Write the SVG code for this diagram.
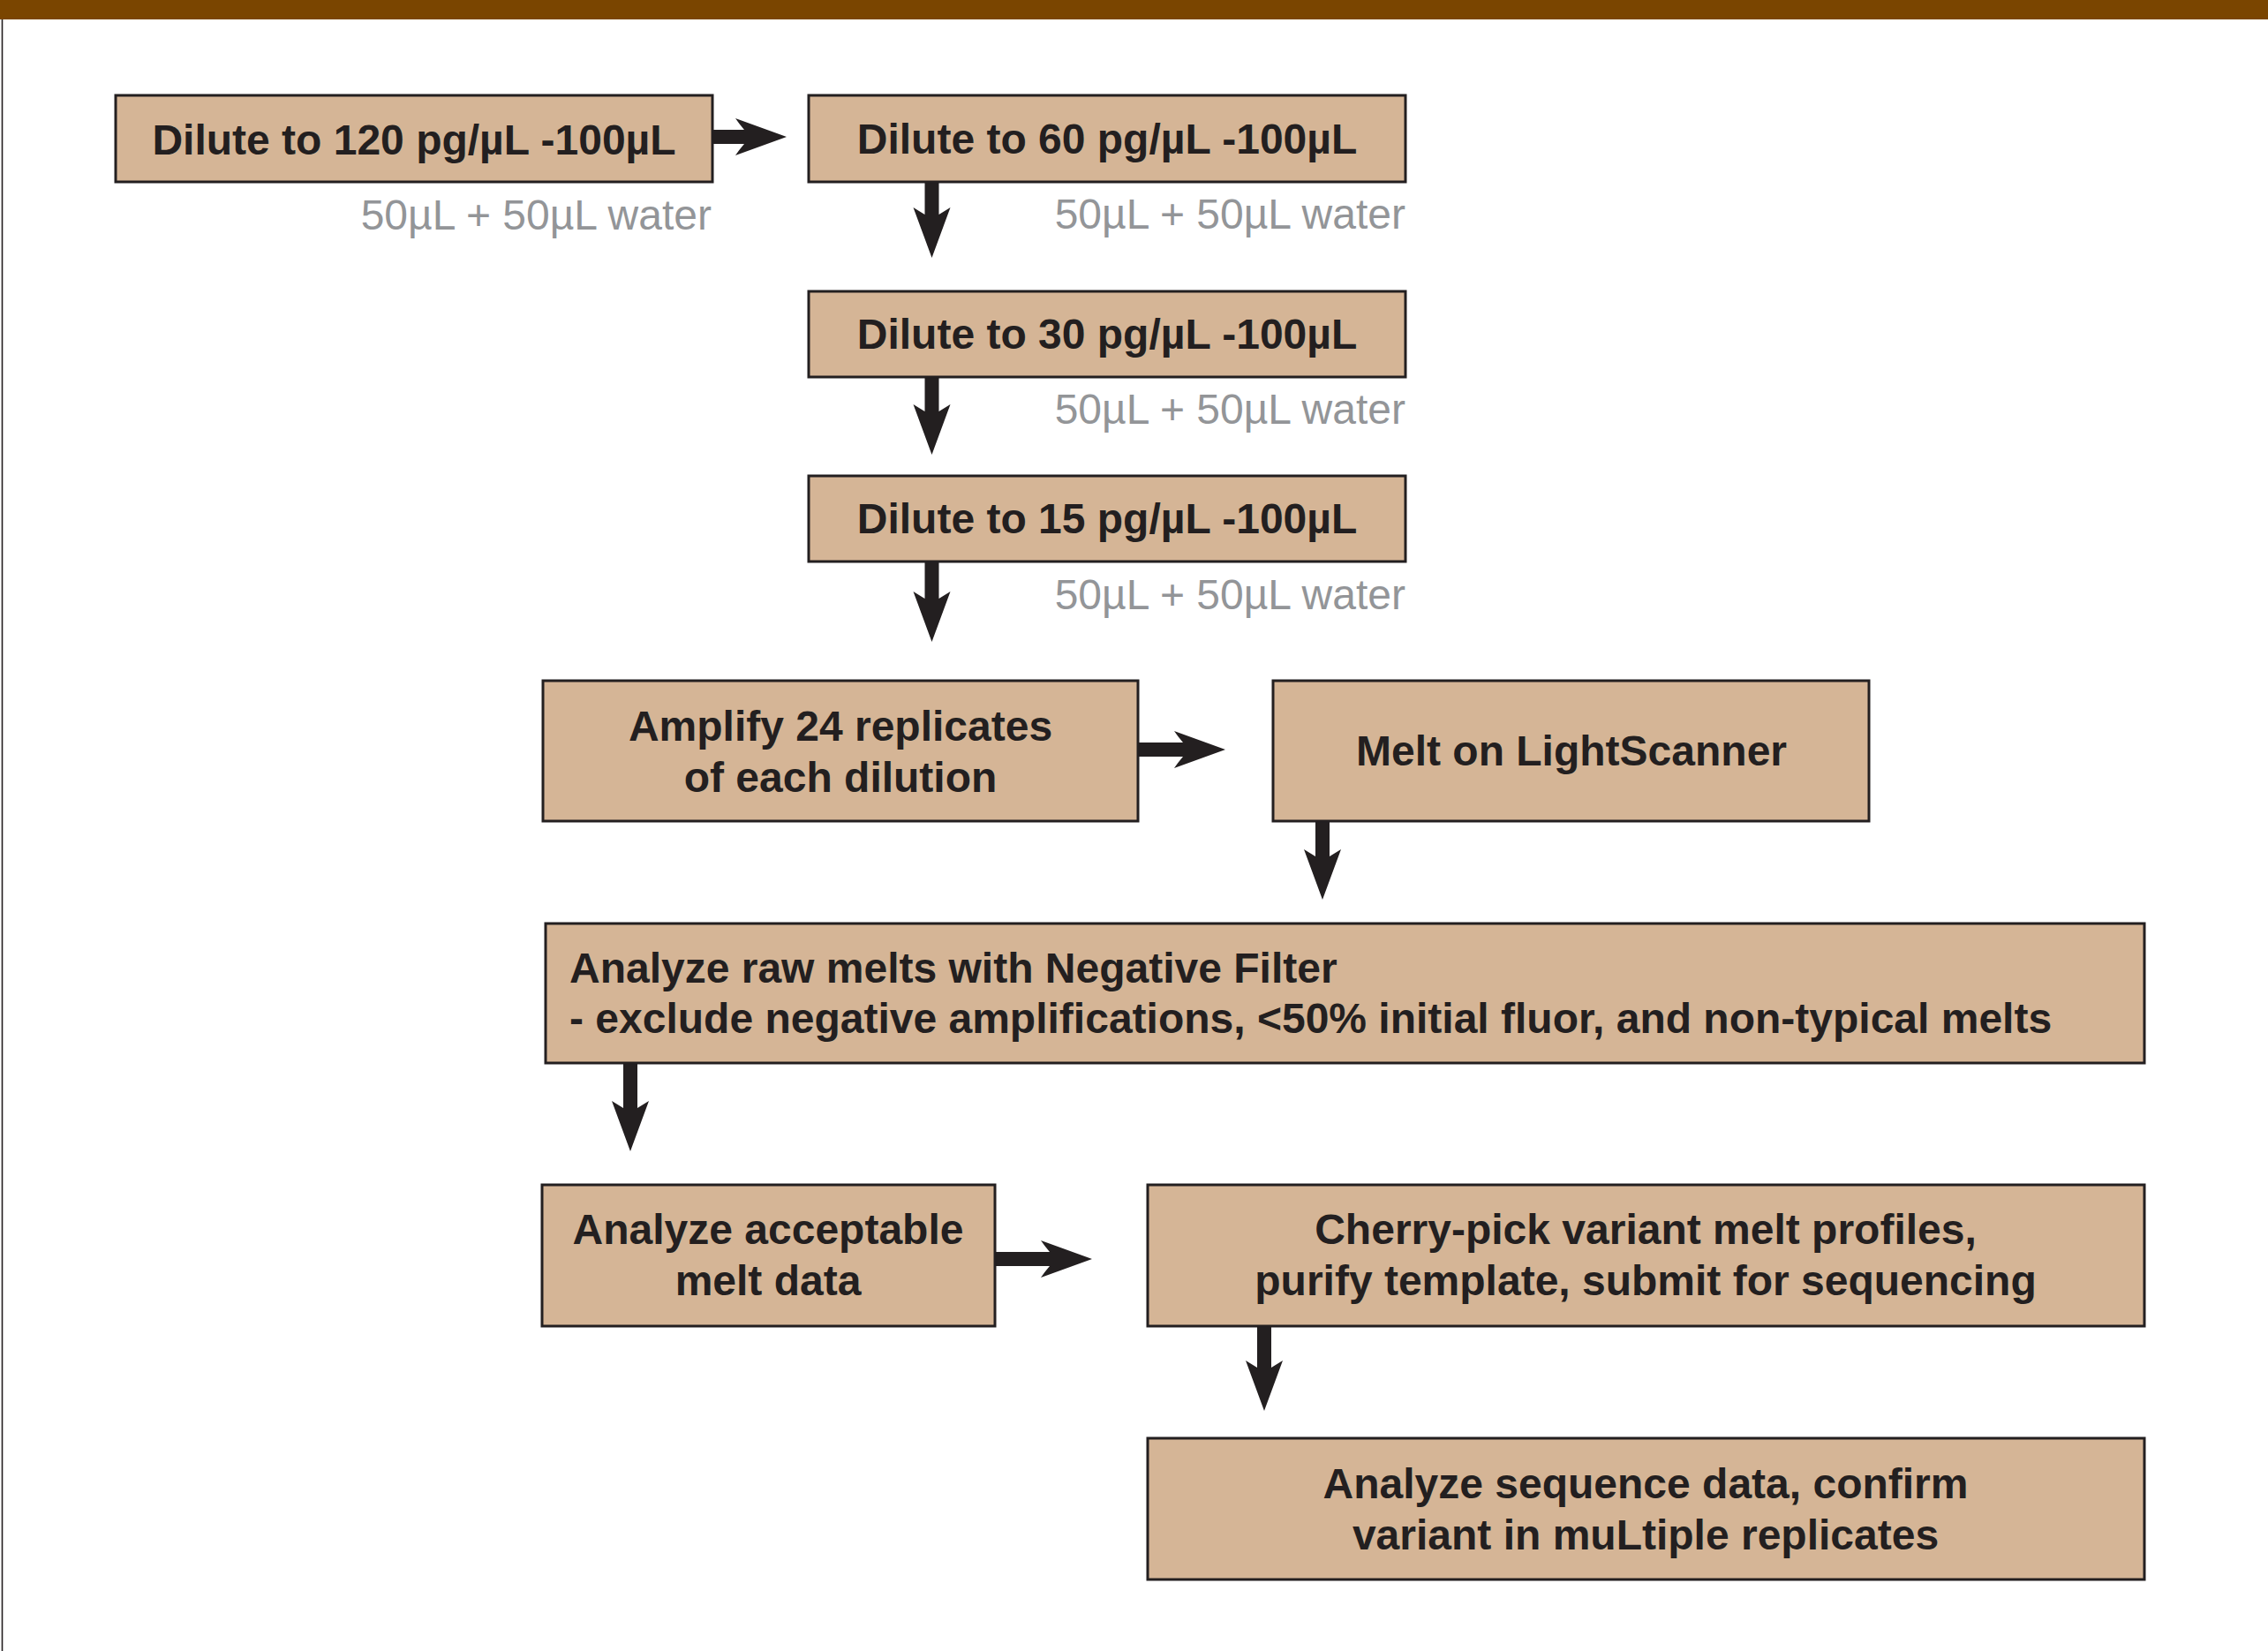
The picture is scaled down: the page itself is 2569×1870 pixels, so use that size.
<svg xmlns="http://www.w3.org/2000/svg" width="2569" height="1870" viewBox="0 0 2569 1870">
<defs>
<style>
.box{fill:#D5B596;stroke:#231F20;stroke-width:3}
.t{font-family:"Liberation Sans",Arial,Helvetica,sans-serif;font-weight:bold;font-size:48px;fill:#231F20}
.c{text-anchor:middle}
.g{font-family:"Liberation Sans",Arial,Helvetica,sans-serif;font-size:48px;fill:#939598;text-anchor:end}
.arr{fill:#231F20;stroke:none}
</style>
</defs>
<rect x="0" y="0" width="2569" height="1870" fill="#ffffff"/>
<rect x="0" y="0" width="2569" height="22" fill="#7A4500"/>
<line x1="2.5" y1="22" x2="2.5" y2="1870" stroke="#231F20" stroke-width="1.6"/>

<g id="connectors">
<path class="arr" d="M807,147 L843,147 Q837,140 833,134 L891,155 L833,176 Q837,170 843,163 L807,163 Z"/>
<path class="arr" d="M1047.5,206 L1047.5,243 Q1041,239 1034.5,235 L1055.5,292 L1076.5,235 Q1070,239 1063.5,243 L1063.5,206 Z"/>
<path class="arr" d="M1047.5,427 L1047.5,466 Q1041,462 1034.5,458 L1055.5,515 L1076.5,458 Q1070,462 1063.5,466 L1063.5,427 Z"/>
<path class="arr" d="M1047.5,636 L1047.5,678 Q1041,674 1034.5,670 L1055.5,727 L1076.5,670 Q1070,674 1063.5,678 L1063.5,636 Z"/>
<path class="arr" d="M1289,841 L1340,841 Q1334,834 1330,828 L1388,849 L1330,870 Q1334,864 1340,857 L1289,857 Z"/>
<path class="arr" d="M1490,930 L1490,970 Q1483.5,966 1477,962 L1498,1019 L1519,962 Q1512.5,966 1506,970 L1506,930 Z"/>
<path class="arr" d="M706,1204 L706,1255 Q699.5,1251 693,1247 L714,1304 L735,1247 Q728.5,1251 722,1255 L722,1204 Z"/>
<path class="arr" d="M1127,1418 L1189,1418 Q1183,1411 1179,1405 L1237,1426 L1179,1447 Q1183,1441 1189,1434 L1127,1434 Z"/>
<path class="arr" d="M1424,1502 L1424,1549 Q1417.5,1545 1411,1541 L1432,1598 L1453,1541 Q1446.5,1545 1440,1549 L1440,1502 Z"/>
</g>

<g id="n1">
<rect class="box" x="131" y="108" width="676" height="98"/>
<text class="t c" x="469" y="175">Dilute to 120 pg/µL -100µL</text>
<text class="g" x="806" y="260">50µL + 50µL water</text>
</g>
<g id="n2">
<rect class="box" x="916" y="108" width="676" height="98"/>
<text class="t c" x="1254" y="174">Dilute to 60 pg/µL -100µL</text>
<text class="g" x="1592" y="259">50µL + 50µL water</text>
</g>
<g id="n3">
<rect class="box" x="916" y="330" width="676" height="97"/>
<text class="t c" x="1254" y="395">Dilute to 30 pg/µL -100µL</text>
<text class="g" x="1592" y="480">50µL + 50µL water</text>
</g>
<g id="n4">
<rect class="box" x="916" y="539" width="676" height="97"/>
<text class="t c" x="1254" y="604">Dilute to 15 pg/µL -100µL</text>
<text class="g" x="1592" y="690">50µL + 50µL water</text>
</g>
<g id="n5">
<rect class="box" x="615" y="771" width="674" height="159"/>
<text class="t c" x="952" y="839">Amplify 24 replicates</text>
<text class="t c" x="952" y="897">of each dilution</text>
</g>
<g id="n6">
<rect class="box" x="1442" y="771" width="675" height="159"/>
<text class="t c" x="1780" y="867">Melt on LightScanner</text>
</g>
<g id="n7">
<rect class="box" x="618" y="1046" width="1811" height="158"/>
<text class="t" x="645" y="1113">Analyze raw melts with Negative Filter</text>
<text class="t" x="645" y="1170">- exclude negative amplifications, &lt;50% initial fluor, and non-typical melts</text>
</g>
<g id="n8">
<rect class="box" x="614" y="1342" width="513" height="160"/>
<text class="t c" x="870" y="1409">Analyze acceptable</text>
<text class="t c" x="870" y="1467">melt data</text>
</g>
<g id="n9">
<rect class="box" x="1300" y="1342" width="1129" height="160"/>
<text class="t c" x="1864" y="1409">Cherry-pick variant melt profiles,</text>
<text class="t c" x="1864" y="1467">purify template, submit for sequencing</text>
</g>
<g id="n10">
<rect class="box" x="1300" y="1629" width="1129" height="160"/>
<text class="t c" x="1864" y="1697">Analyze sequence data, confirm</text>
<text class="t c" x="1864" y="1755">variant in muLtiple replicates</text>
</g>
</svg>
